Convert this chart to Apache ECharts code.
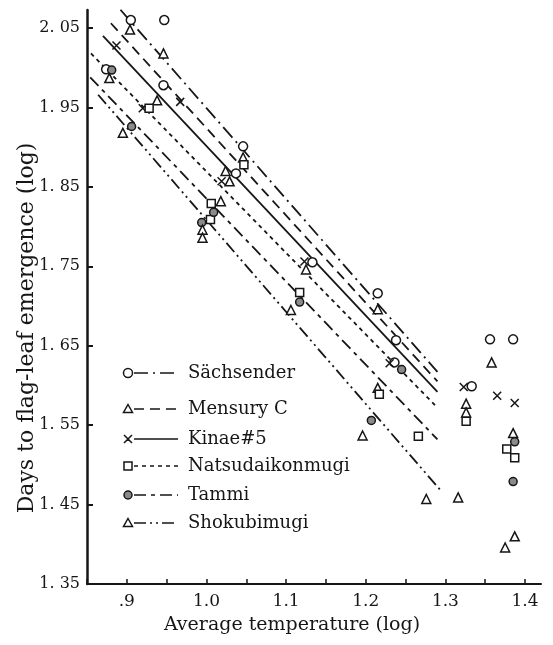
<!DOCTYPE html>
<html><head><meta charset="utf-8">
<script src="https://cdn.jsdelivr.net/npm/echarts@6/dist/echarts.min.js"></script>
<style>html,body{margin:0;padding:0;background:#fff}#c{width:553px;height:645px}</style>
</head><body><div id="c"></div>
<script>
// ---- tick labels ----
const xTickValues = [0.9, 1.0, 1.1, 1.2, 1.3, 1.4];
const xTickTexts  = ['.9', '1.0', '1.1', '1.2', '1.3', '1.4'];
const yTickValues = [1.35, 1.45, 1.55, 1.65, 1.75, 1.85, 1.95, 2.05];
const yTickTexts  = ['1. 35', '1. 45', '1. 55', '1. 65', '1. 75', '1. 85', '1. 95', '2. 05'];
const xAxisTitle = 'Average temperature (log)';
const yAxisTitle = 'Days to flag-leaf emergence (log)';

// ---- varieties ----
const varieties = ['Sächsender', 'Mensury C', 'Kinae#5', 'Natsudaikonmugi', 'Tammi', 'Shokubimugi'];

// observed points [log temperature, log days]
const sachsenderPts = [[0.905,2.060],[0.947,2.060],[0.874,1.998],[0.946,1.978],[1.046,1.901],[1.037,1.867],
  [1.133,1.755],[1.215,1.716],[1.238,1.657],[1.236,1.629],[1.333,1.599],[1.356,1.658],[1.385,1.658]];
const mensuryPts = [[0.904,2.048],[0.946,2.018],[0.938,1.959],[1.024,1.870],[1.046,1.887],[1.029,1.857],
  [1.018,1.832],[1.125,1.746],[1.215,1.696],[1.215,1.597],[1.358,1.629],[1.326,1.577],[1.385,1.540]];
const kinaePts = [[0.887,2.028],[0.920,1.949],[0.967,1.957],[1.019,1.857],[1.123,1.756],[1.230,1.628],
  [1.323,1.598],[1.365,1.587],[1.387,1.578]];
const natsuPts = [[0.928,1.949],[1.047,1.878],[1.006,1.829],[1.005,1.809],[1.117,1.717],[1.217,1.589],
  [1.266,1.536],[1.326,1.555],[1.377,1.520],[1.387,1.509]];
const tammiPts = [[0.881,1.997],[0.906,1.926],[0.994,1.805],[1.009,1.818],[1.117,1.705],[1.207,1.556],
  [1.245,1.620],[1.387,1.529],[1.385,1.479]];
const shokuPts = [[0.878,1.987],[0.895,1.918],[0.995,1.796],[0.995,1.786],[1.106,1.695],[1.196,1.537],
  [1.276,1.457],[1.316,1.459],[1.326,1.566],[1.387,1.410],[1.375,1.396]];

// regression lines (end points)
const sachsenderLine = [[0.892,2.073],[1.290,1.617]];
const mensuryLine    = [[0.880,2.056],[1.290,1.605]];
const kinaeLine      = [[0.870,2.040],[1.290,1.592]];
const natsuLine      = [[0.855,2.018],[1.290,1.572]];
const tammiLine      = [[0.854,1.988],[1.290,1.532]];
const shokuLine      = [[0.864,1.966],[1.293,1.469]];

const INK = '#161616';
const FONT = '"DejaVu Serif", "Liberation Serif", serif';
const crossPath = 'path://M0,0L10,10M10,0L0,10';

const defs = [
  {name: varieties[0], pts: sachsenderPts, line: sachsenderLine, symbol: 'circle', size: 9, fill: '#fff', dash: [14,5,2,5]},
  {name: varieties[1], pts: mensuryPts, line: mensuryLine, symbol: 'triangle', size: 9, fill: '#fff', dash: [10,6]},
  {name: varieties[2], pts: kinaePts, line: kinaeLine, symbol: crossPath, size: 8, fill: 'none', dash: 'solid'},
  {name: varieties[3], pts: natsuPts, line: natsuLine, symbol: 'rect', size: 8, fill: '#fff', dash: [4,4]},
  {name: varieties[4], pts: tammiPts, line: tammiLine, symbol: 'circle', size: 8, fill: '#8a8a8a', dash: [12,5,4,5]},
  {name: varieties[5], pts: shokuPts, line: shokuLine, symbol: 'triangle', size: 9, fill: '#fff', dash: [12,4,2,4,2,4]}
];

const series = [];
defs.forEach(d => {
  series.push({
    name: d.name + ' fit', type: 'line', data: d.line, showSymbol: false, symbol: 'none',
    lineStyle: {color: INK, width: 1.8, type: d.dash}, silent: true, z: 2
  });
  series.push({
    name: d.name, type: 'scatter', data: d.pts, symbol: d.symbol, symbolSize: d.size,
    itemStyle: {color: d.fill, borderColor: INK, borderWidth: 1.5, opacity: 1}, z: 3
  });
});

// legend drawn as graphic (marker, line sample, label)
const legendRows = [373, 409, 439, 466, 495, 523];
const graphics = [];
defs.forEach((d, i) => {
  const cy = legendRows[i], cx = 128;
  let mk;
  if (d.symbol === 'circle') {
    mk = {type: 'circle', shape: {cx, cy, r: d.size / 2}, style: {fill: d.fill, stroke: INK, lineWidth: 1.5}};
  } else if (d.symbol === 'triangle') {
    mk = {type: 'polygon', shape: {points: [[cx, cy - 4.5], [cx + 4.5, cy + 3.5], [cx - 4.5, cy + 3.5]]}, style: {fill: '#fff', stroke: INK, lineWidth: 1.5}};
  } else if (d.symbol === 'rect') {
    mk = {type: 'rect', shape: {x: cx - 4, y: cy - 4, width: 8, height: 8}, style: {fill: '#fff', stroke: INK, lineWidth: 1.5}};
  } else {
    mk = {type: 'polyline', shape: {points: [[cx - 4, cy - 4], [cx, cy], [cx - 4, cy + 4], [cx, cy], [cx + 4, cy - 4], [cx, cy], [cx + 4, cy + 4]]}, style: {stroke: INK, lineWidth: 1.5, fill: null}};
  }
  graphics.push(mk);
  graphics.push({type: 'line', shape: {x1: 134, y1: cy, x2: 178, y2: cy},
    style: {stroke: INK, lineWidth: 1.6, lineDash: d.dash === 'solid' ? null : d.dash}});
  graphics.push({type: 'text', x: 188, y: cy, style: {text: d.name, font: '18px ' + FONT, fill: INK, align: 'left', verticalAlign: 'middle'}});
});
graphics.push({type: 'text', x: 292, y: 625, style: {text: xAxisTitle, font: '19px ' + FONT, fill: INK, align: 'center', verticalAlign: 'middle'}});
graphics.push({type: 'text', x: 27, y: 328, rotation: Math.PI / 2, style: {text: yAxisTitle, font: '22px ' + FONT, fill: INK, align: 'center', verticalAlign: 'middle'}});

function fmt(values, texts) {
  return v => { const i = values.findIndex(t => Math.abs(t - v) < 1e-6); return i >= 0 ? texts[i] : ''; };
}

const chart = echarts.init(document.getElementById('c'), null, {renderer: 'canvas'});
chart.setOption({
  animation: false,
  backgroundColor: '#fff',
  grid: {left: 87, right: 12, top: 10, bottom: 61, containLabel: false},
  xAxis: {
    type: 'value', min: 0.85, max: 1.42, interval: 0.05,
    axisLine: {show: true, lineStyle: {color: INK, width: 2}},
    axisTick: {show: true, inside: true, length: 5, lineStyle: {color: INK, width: 1.5}},
    splitLine: {show: false},
    axisLabel: {formatter: fmt(xTickValues, xTickTexts), color: INK, fontFamily: FONT, fontSize: 17, margin: 9, showMaxLabel: false}
  },
  yAxis: {
    type: 'value', min: 1.35, max: 2.0727, interval: 0.1,
    axisLine: {show: true, lineStyle: {color: INK, width: 2.5}},
    axisTick: {show: true, inside: true, length: 6, lineStyle: {color: INK, width: 2}},
    splitLine: {show: false},
    axisLabel: {formatter: fmt(yTickValues, yTickTexts), color: INK, fontFamily: FONT, fontSize: 16, margin: 7, showMaxLabel: false}
  },
  graphic: graphics,
  series: series
});
</script></body></html>
